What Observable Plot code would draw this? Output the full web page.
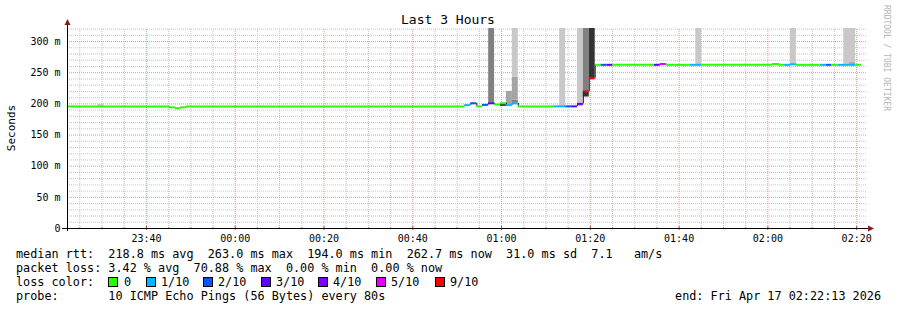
<!DOCTYPE html>
<html><head><meta charset="utf-8">
<script src="https://cdn.jsdelivr.net/npm/d3@7"></script>
<script src="https://cdn.jsdelivr.net/npm/@observablehq/plot@0.6"></script>
<style>body{margin:0;background:#fff}svg{display:block}</style>
</head><body><div id="chart"></div>
<script>
// ---------- data ----------
const title = "Last 3 Hours";
const yLabel = "Seconds";
const watermark = "RRDTOOL / TOBI OETIKER";
const windowStart = "23:22:13", windowEnd = "02:22:13";
const yMax = 321;
const yTicks = [0, 50, 100, 150, 200, 250, 300];
const yTickLabels = ["0", "50 m", "100 m", "150 m", "200 m", "250 m", "300 m"];
const xTickLabels = ["23:40", "00:00", "00:20", "00:40", "01:00", "01:20", "01:40", "02:00", "02:20"];

// median rtt steps (ms) and packet loss (of 10 pings)
const segStart = ["23:22:13","23:45:06","23:46:26","23:47:46","23:49:06","00:51:46","00:53:06","00:54:26","00:55:46","00:57:06",
  "00:58:26","00:59:46","01:01:06","01:02:26","01:03:46","01:11:46","01:14:26","01:15:46","01:17:06","01:18:26",
  "01:19:46","01:21:06","01:22:26","01:23:46","01:25:06","01:34:26","01:35:46","01:37:06","01:42:26","01:45:06",
  "02:01:06","02:02:26","02:03:46","02:05:06","02:06:26","02:11:46","02:13:06","02:14:26","02:15:46","02:19:46"];
const segEnd = ["23:45:06","23:46:26","23:47:46","23:49:06","00:51:46","00:53:06","00:54:26","00:55:46","00:57:06","00:58:26",
  "00:59:46","01:01:06","01:02:26","01:03:46","01:11:46","01:14:26","01:15:46","01:17:06","01:18:26","01:19:46",
  "01:21:06","01:22:26","01:23:46","01:25:06","01:34:26","01:35:46","01:37:06","01:42:26","01:45:06","02:01:06",
  "02:02:26","02:03:46","02:05:06","02:06:26","02:11:46","02:13:06","02:14:26","02:15:46","02:19:46","02:21:06"];
const medianMs = [196,194.5,193,194.5,196,198,201,196,198.5,201,
  199,201,198,201,196,196,196,196,200,220,
  241,262.7,262.7,262.7,262.7,262.7,264,262.7,262.7,262.7,
  264,262.7,262.7,263.5,262.7,262.7,262.7,262.7,262.7,262.7];
const lossCount = [0,0,0,0,0,1,2,0,2,3,
  0,0,1,1,0,1,2,3,3,9,
  9,0,2,3,0,3,5,0,1,0,
  0,0,1,1,0,1,2,0,1,0];

// smoke (ping spread) bands
const smokeStart = ["23:29:06","00:57:06","00:59:46","01:01:06","01:02:26","01:02:26","01:02:26","01:13:06","01:17:06","01:17:06","01:18:26","01:18:26","01:19:46","01:43:46","02:05:06","02:17:06","02:18:26"];
const smokeEnd   = ["23:30:26","00:58:26","01:01:06","01:02:26","01:03:46","01:03:46","01:03:46","01:14:26","01:18:26","01:18:26","01:19:46","01:19:46","01:21:06","01:45:06","02:06:26","02:19:46","02:19:46"];
const smokeLow   = [196,201,196,198,201,206,243,196,200,196,220,211,241,262.7,263.5,262.7,263];
const smokeHigh  = [199,321,199.5,220,206,243,321,321,321,200,321,220,321,321,321,321,266];
const smokeShade = ["light","dark","black","mid","dark","mid","light","light","light","lavender","dark","black","black","light","light","light","mid"];

const lossLevels = [0, 1, 2, 3, 4, 5, 9];
const lossLabels = ["0", "1/10", "2/10", "3/10", "4/10", "5/10", "9/10"];
const lossColors = ["#26ff00", "#00b8ff", "#0059ff", "#5e00ff", "#7e00ff", "#dd00ff", "#ff0000"];

const legendLine1 = "median rtt:  218.8 ms avg  263.0 ms max  194.0 ms min  262.7 ms now  31.0 ms sd  7.1   am/s";
const legendLine2 = "packet loss: 3.42 % avg  70.88 % max  0.00 % min  0.00 % now";
const legendLine3 = "loss color:";
const legendLine4 = "probe:       10 ICMP Echo Pings (56 Bytes) every 80s";
const legendEnd = "end: Fri Apr 17 02:22:13 2026";

// ---------- build ----------
function T(s) {
  const [h, m, sec] = s.split(":").map(Number);
  const day = h >= 12 ? 16 : 17;
  return new Date(Date.UTC(2026, 3, day, h, m, sec || 0));
}
const shadeColor = {light: "#c8c8c8", mid: "#a4a4a4", dark: "#808080", black: "#333333", lavender: "#b8b8dc"};
const lossColor = Object.fromEntries(lossLevels.map((l, i) => [l, lossColors[i]]));

const t0 = T(windowStart), t1 = T(windowEnd);
const segs = segStart.map((s, i) => ({t1: T(s), t2: T(segEnd[i]), v: medianMs[i], loss: lossCount[i]}));
const steps = [];
for (let i = 1; i < segs.length; i++) if (segs[i].v !== segs[i - 1].v) steps.push({t: segs[i].t1, a: segs[i - 1].v, b: segs[i].v});
const smoke = smokeStart.map((s, i) => ({t1: T(s), t2: T(smokeEnd[i]), lo: smokeLow[i], hi: smokeHigh[i], c: shadeColor[smokeShade[i]]}));

const xTickDates = xTickLabels.map(T);
const fiveMin = d3.utcMinute.every(5).range(t0, t1);
const minorX = fiveMin.filter(d => d.getUTCMinutes() % 20 !== 0);
const majorX = fiveMin.filter(d => d.getUTCMinutes() % 20 === 0);
const minorY = d3.range(10, yMax, 10).filter(v => v % 50 !== 0);
const majorY = yTicks.filter(v => v > 0);

const mono = "DejaVu Sans Mono";
const minorGrid = "#c4c4c4", majorGrid = "#f09090";

const svg = Plot.plot({
  width: 897, height: 310,
  marginLeft: 67, marginRight: 31, marginTop: 28, marginBottom: 82,
  style: {background: "#fff", fontFamily: mono},
  x: {type: "utc", domain: [t0, t1], axis: null},
  y: {domain: [0, yMax], axis: null},
  marks: [
    Plot.ruleY(minorY, {x1: t0, x2: t1, y: d => d, stroke: minorGrid, strokeDasharray: "1,1"}),
    Plot.ruleX(minorX, {x: d => d, y1: 0, y2: yMax, stroke: minorGrid, strokeDasharray: "1,1"}),
    Plot.ruleY(majorY, {x1: t0, x2: t1, y: d => d, stroke: majorGrid, strokeDasharray: "1,1"}),
    Plot.ruleX(majorX, {x: d => d, y1: 0, y2: yMax, stroke: majorGrid, strokeDasharray: "1,1"}),
    Plot.rect(smoke, {x1: "t1", x2: "t2", y1: "lo", y2: "hi", fill: "c"}),
    Plot.ruleX(steps, {x: "t", y1: "a", y2: "b", stroke: "#202020", strokeWidth: 1}),
    Plot.ruleY(segs, {x1: "t1", x2: "t2", y: "v", stroke: d => lossColor[d.loss], strokeWidth: 2}),
    Plot.text(yTicks, {x: t0, y: d => d, text: (d, i) => yTickLabels[i], textAnchor: "end", dx: -7, fontSize: 10, fill: "#000", fontFamily: mono}),
    Plot.text(xTickDates, {x: d => d, y: 0, text: (d, i) => xTickLabels[i], dy: 10, fontSize: 10, fill: "#000", fontFamily: mono}),
    Plot.ruleX(majorX, {x: d => d, y1: 0, y2: 0, insetTop: -2, insetBottom: -2, stroke: "#d04040"}),
    Plot.ruleX(minorX, {x: d => d, y1: 0, y2: 0, insetTop: -1, insetBottom: -1, stroke: "#909090"})
  ]
});
document.getElementById("chart").appendChild(svg);

// ---------- decorations & texts ----------
const s = d3.select(svg);
// axes
s.append("line").attr("x1", 62).attr("x2", 868).attr("y1", 228.5).attr("y2", 228.5).attr("stroke", "#000");
s.append("line").attr("x1", 67.5).attr("x2", 67.5).attr("y1", 231).attr("y2", 24).attr("stroke", "#000");
s.append("path").attr("d", "M868,225.5L874,228.5L868,231.5Z").attr("fill", "#8b1a1a");
s.append("path").attr("d", "M64.5,25L67.5,19L70.5,25Z").attr("fill", "#8b1a1a");

const txt = (x, y, str, opts = {}) => s.append("text")
  .attr("x", x).attr("y", y).attr("font-family", mono)
  .attr("font-size", opts.size || 11.8).attr("fill", opts.fill || "#000")
  .attr("text-anchor", opts.anchor || "start").attr("transform", opts.transform || null)
  .style("white-space", "pre").text(str);

txt(448, 24, title, {size: 13, anchor: "middle"});
txt(0, 0, yLabel, {size: 11, anchor: "middle", transform: "translate(15,128) rotate(-90)"});
txt(0, 0, watermark, {size: 8, fill: "#b4b4b4", transform: "translate(884,5) rotate(90)"});

txt(16, 258, legendLine1);
txt(16, 272, legendLine2);
txt(16, 286, legendLine3);
txt(16, 300, legendLine4);
txt(881, 300, legendEnd, {anchor: "end"});

const boxX = [108, 146, 203, 261, 318, 376, 435];
const labX = [124, 161, 218, 276, 333, 391, 450];
lossLabels.forEach((lab, i) => {
  s.append("rect").attr("x", boxX[i] + 0.5).attr("y", 277.5).attr("width", 9).attr("height", 9)
    .attr("fill", lossColors[i]).attr("stroke", "#000");
  txt(labX[i], 286, lab);
});
</script>
</body></html>
